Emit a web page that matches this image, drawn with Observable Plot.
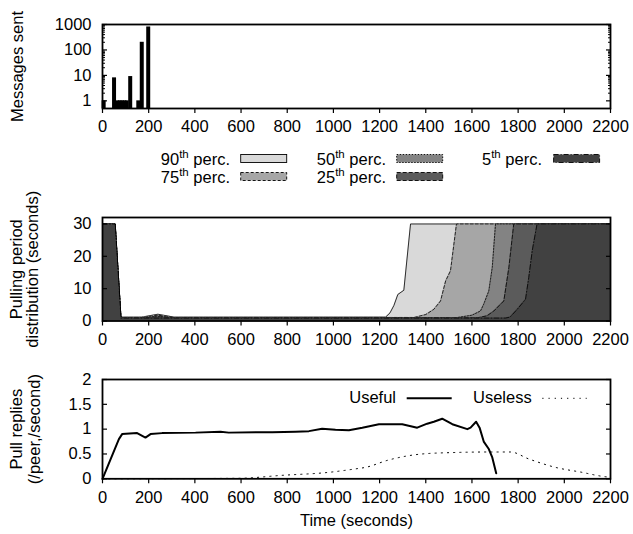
<!DOCTYPE html>
<html><head><meta charset="utf-8">
<script src="https://cdn.jsdelivr.net/npm/d3@7"></script>
<script src="https://cdn.jsdelivr.net/npm/@observablehq/plot@0.6"></script>
<style>
body{margin:0;background:#fff;}
#wrap{position:relative;width:633px;height:534px;overflow:hidden;background:#fff;}
#wrap svg{position:absolute;left:0;}
</style></head>
<body><div id="wrap"></div>
<script>
// ---------- data ----------
const xTickValues = [0, 200, 400, 600, 800, 1000, 1200, 1400, 1600, 1800, 2000, 2200];

// Panel 1: messages sent
const msgTime  = [5, 50, 65, 75, 85, 95, 105, 120, 155, 170, 198];
const msgCount = [1, 8, 1, 1, 1, 1, 1, 9, 1, 200, 800];
const msgTicks = [1, 10, 100, 1000];
const msgMinorTicks = [2,3,4,5,6,7,8,9,20,30,40,50,60,70,80,90,200,300,400,500,600,700,800,900];

// Panel 2: pulling period percentiles
const pctNames = ["90th", "75th", "50th", "25th", "5th"];
const pctColors = ["#d9d9d9", "#a6a6a6", "#838383", "#5b5b5b", "#414141"];
const pctDash = [null, "3,2", "1.5,1.5", "4,2", "5,2,1,2"];
const p90Time = [0, 55, 80, 170, 240, 310, 1226, 1245, 1262, 1279, 1305, 1334, 2200];
const p90Val  = [30, 30, 1.2, 1.2, 2.1, 1.2, 1.2, 2.5, 4.8, 8.2, 9.5, 30, 30];
const p75Time = [0, 55, 80, 170, 240, 310, 1350, 1400, 1435, 1464, 1486, 1507, 1533, 2200];
const p75Val  = [30, 30, 1.1, 1.1, 1.8, 1.1, 1.1, 2.0, 3.6, 6.2, 12.4, 15.5, 30, 30];
const p50Time = [0, 55, 80, 170, 240, 310, 1530, 1600, 1637, 1651, 1673, 1688, 1702, 2200];
const p50Val  = [30, 30, 1.0, 1.0, 1.5, 1.0, 1.0, 1.8, 3.1, 5.2, 9.3, 16.6, 30, 30];
const p25Time = [0, 55, 80, 170, 240, 310, 1625, 1665, 1695, 1717, 1738, 1760, 1781, 2200];
const p25Val  = [30, 30, 1.0, 1.0, 1.3, 1.0, 1.0, 1.6, 3.1, 4.7, 6.2, 16.6, 30, 30];
const p5Time  = [0, 55, 80, 1745, 1765, 1796, 1832, 1846, 1861, 1882, 2200];
const p5Val   = [30, 30, 0.9, 0.9, 1.2, 3.6, 6.7, 13.4, 21.7, 30, 30];
const pctTicks = [0, 10, 20, 30];

// Panel 3: pull replies
const usefulTime = [0, 71, 85, 150, 186, 208, 258, 403, 511, 547, 735, 836, 894, 951, 1009, 1067, 1125, 1197, 1298, 1363, 1406, 1435, 1471, 1515, 1580, 1594, 1618, 1633, 1651, 1673, 1688, 1705];
const usefulVal  = [0, 0.8, 0.9, 0.92, 0.83, 0.9, 0.92, 0.93, 0.95, 0.93, 0.94, 0.95, 0.96, 1.01, 0.99, 0.98, 1.03, 1.1, 1.1, 1.03, 1.11, 1.15, 1.21, 1.1, 1.0, 1.03, 1.15, 1.03, 0.75, 0.6, 0.43, 0.11];
const uselessTime = [0, 590, 778, 980, 1096, 1139, 1240, 1384, 1529, 1673, 1767, 1846, 1962, 2077, 2164, 2200];
const uselessVal  = [0, 0.01, 0.07, 0.13, 0.2, 0.23, 0.38, 0.5, 0.53, 0.54, 0.54, 0.4, 0.23, 0.13, 0.05, 0.03];
const replyTicks = [0, 0.5, 1, 1.5, 2];

// ---------- layout ----------
const W = 633;
const FS = 16.5;
const FONT = "'Liberation Sans', Arial, Helvetica, sans-serif";
const wrap = document.getElementById("wrap");
const baseStyle = {fontFamily: FONT, fontSize: FS + "px", background: "transparent", overflow: "visible", color: "#000"};
const M = {marginLeft: 102, marginRight: 23};
function place(svg, top) { svg.style.top = top + "px"; wrap.append(svg); }
const blank = () => "";

function yAxes(ticks, fmt, minor) {
  const a = [
    Plot.axisY({ticks, tickSize: 0, tickPadding: 11, tickFormat: fmt, label: null}),
    Plot.axisY({ticks, tickSize: -5, tickFormat: blank, label: null, strokeWidth: 1.2}),
    Plot.axisY({anchor: "right", ticks, tickSize: -5, tickFormat: blank, label: null, strokeWidth: 1.2})
  ];
  if (minor) {
    a.push(Plot.axisY({ticks: minor, tickSize: -3, tickFormat: blank, label: null}));
    a.push(Plot.axisY({anchor: "right", ticks: minor, tickSize: -3, tickFormat: blank, label: null}));
  }
  return a;
}
const xAxis = () => Plot.axisX({ticks: xTickValues, tickSize: 5, tickPadding: 7, tickFormat: d => String(d), label: null, strokeWidth: 1.2});
const yLabel = (txt, dx, lh) => Plot.text([txt], {frameAnchor: "left", textAnchor: "middle", lineAnchor: "middle", rotate: -90, dx, lineHeight: lh, fontSize: FS, fill: "#000"});

// Panel 1
place(Plot.plot({
  width: W, height: 140, marginTop: 24, marginBottom: 32, ...M,
  style: baseStyle,
  x: {domain: [0, 2200]},
  y: {type: "log", domain: [0.5, 1000]},
  marks: [
    Plot.ruleX(msgTime, {x: msgTime, y1: 0.5, y2: msgCount, stroke: "#000", strokeWidth: 4}),
    xAxis(),
    ...yAxes(msgTicks, d => String(d), msgMinorTicks),
    Plot.frame({stroke: "#000", strokeWidth: 1.8}),
    yLabel("Messages sent", -84.5, 1)
  ]
}), 0);

// Panel 2
const pctSeries = [
  {t: p90Time, v: p90Val}, {t: p75Time, v: p75Val}, {t: p50Time, v: p50Val},
  {t: p25Time, v: p25Val}, {t: p5Time, v: p5Val}
].map((s, i) => ({...s, fill: pctColors[i], dash: pctDash[i]}));

place(Plot.plot({
  width: W, height: 160, marginTop: 27, marginBottom: 29.5, ...M,
  style: baseStyle,
  x: {domain: [0, 2200]},
  y: {domain: [0, 32]},
  marks: [
    ...pctSeries.flatMap(s => [
      Plot.areaY(s.t, {x: s.t, y: s.v, fill: s.fill}),
      Plot.line(s.t, {x: s.t, y: s.v, stroke: "#000", strokeWidth: 0.8, strokeDasharray: s.dash})
    ]),
    xAxis(),
    ...yAxes(pctTicks, d => String(d)),
    Plot.frame({stroke: "#000", strokeWidth: 1.8}),
    yLabel("Pulling period\ndistribution (seconds)", -78, 1.0)
  ]
}), 190);

// Panel 3
place(Plot.plot({
  width: W, height: 184, marginTop: 29, marginBottom: 55.7, ...M,
  style: baseStyle,
  x: {domain: [0, 2200]},
  y: {domain: [0, 2]},
  marks: [
    Plot.line(uselessTime, {x: uselessTime, y: uselessVal, stroke: "#000", strokeWidth: 1, strokeDasharray: "1.2,5", curve: "monotone-x"}),
    Plot.line(usefulTime, {x: usefulTime, y: usefulVal, stroke: "#000", strokeWidth: 2, curve: "linear"}),
    xAxis(),
    ...yAxes(replyTicks, d => String(d)),
    Plot.frame({stroke: "#000", strokeWidth: 1.8}),
    yLabel("Pull replies\n(/peer,/second)", -77, 1.1),
    Plot.text(["Time (seconds)"], {frameAnchor: "bottom", dy: 47, fontSize: FS, fill: "#000"})
  ]
}), 350);

// ---------- legends ----------
const lg = d3.create("svg").attr("width", W).attr("height", 534)
  .style("top", "0px").style("pointer-events", "none")
  .attr("font-family", FONT).attr("font-size", FS);
const colRight = [230, 386, 542];
const swLeft = [240.7, 396.7, 553.6];
const rowBase = [164.5, 182.5];
const rowSw = [154.5, 172.5];
const slots = [[0,0],[0,1],[1,0],[1,1],[2,0]]; // 90,75,50,25,5 -> col,row
pctNames.forEach((name, i) => {
  const [c, r] = slots[i];
  const t = lg.append("text").attr("x", colRight[c]).attr("y", rowBase[r]).attr("text-anchor", "end");
  t.append("tspan").text(name.replace("th", ""));
  t.append("tspan").attr("font-size", 11.5).attr("dy", -7).text("th");
  t.append("tspan").attr("dy", 7).text(" perc.");
  lg.append("rect").attr("x", swLeft[c]).attr("y", rowSw[r]).attr("width", 46).attr("height", 8)
    .attr("fill", pctColors[i]).attr("stroke", "#000").attr("stroke-width", 0.9)
    .attr("stroke-dasharray", pctDash[i]);
});
lg.append("text").attr("x", 396).attr("y", 403.3).attr("text-anchor", "end").text("Useful");
lg.append("line").attr("x1", 406.7).attr("x2", 451.7).attr("y1", 398.3).attr("y2", 398.3).attr("stroke", "#000").attr("stroke-width", 2);
lg.append("text").attr("x", 531.7).attr("y", 403.3).attr("text-anchor", "end").text("Useless");
lg.append("line").attr("x1", 542.3).attr("x2", 586.7).attr("y1", 398.3).attr("y2", 398.3).attr("stroke", "#000").attr("stroke-width", 1).attr("stroke-dasharray", "1.2,5");
wrap.append(lg.node());
</script>
</body></html>
